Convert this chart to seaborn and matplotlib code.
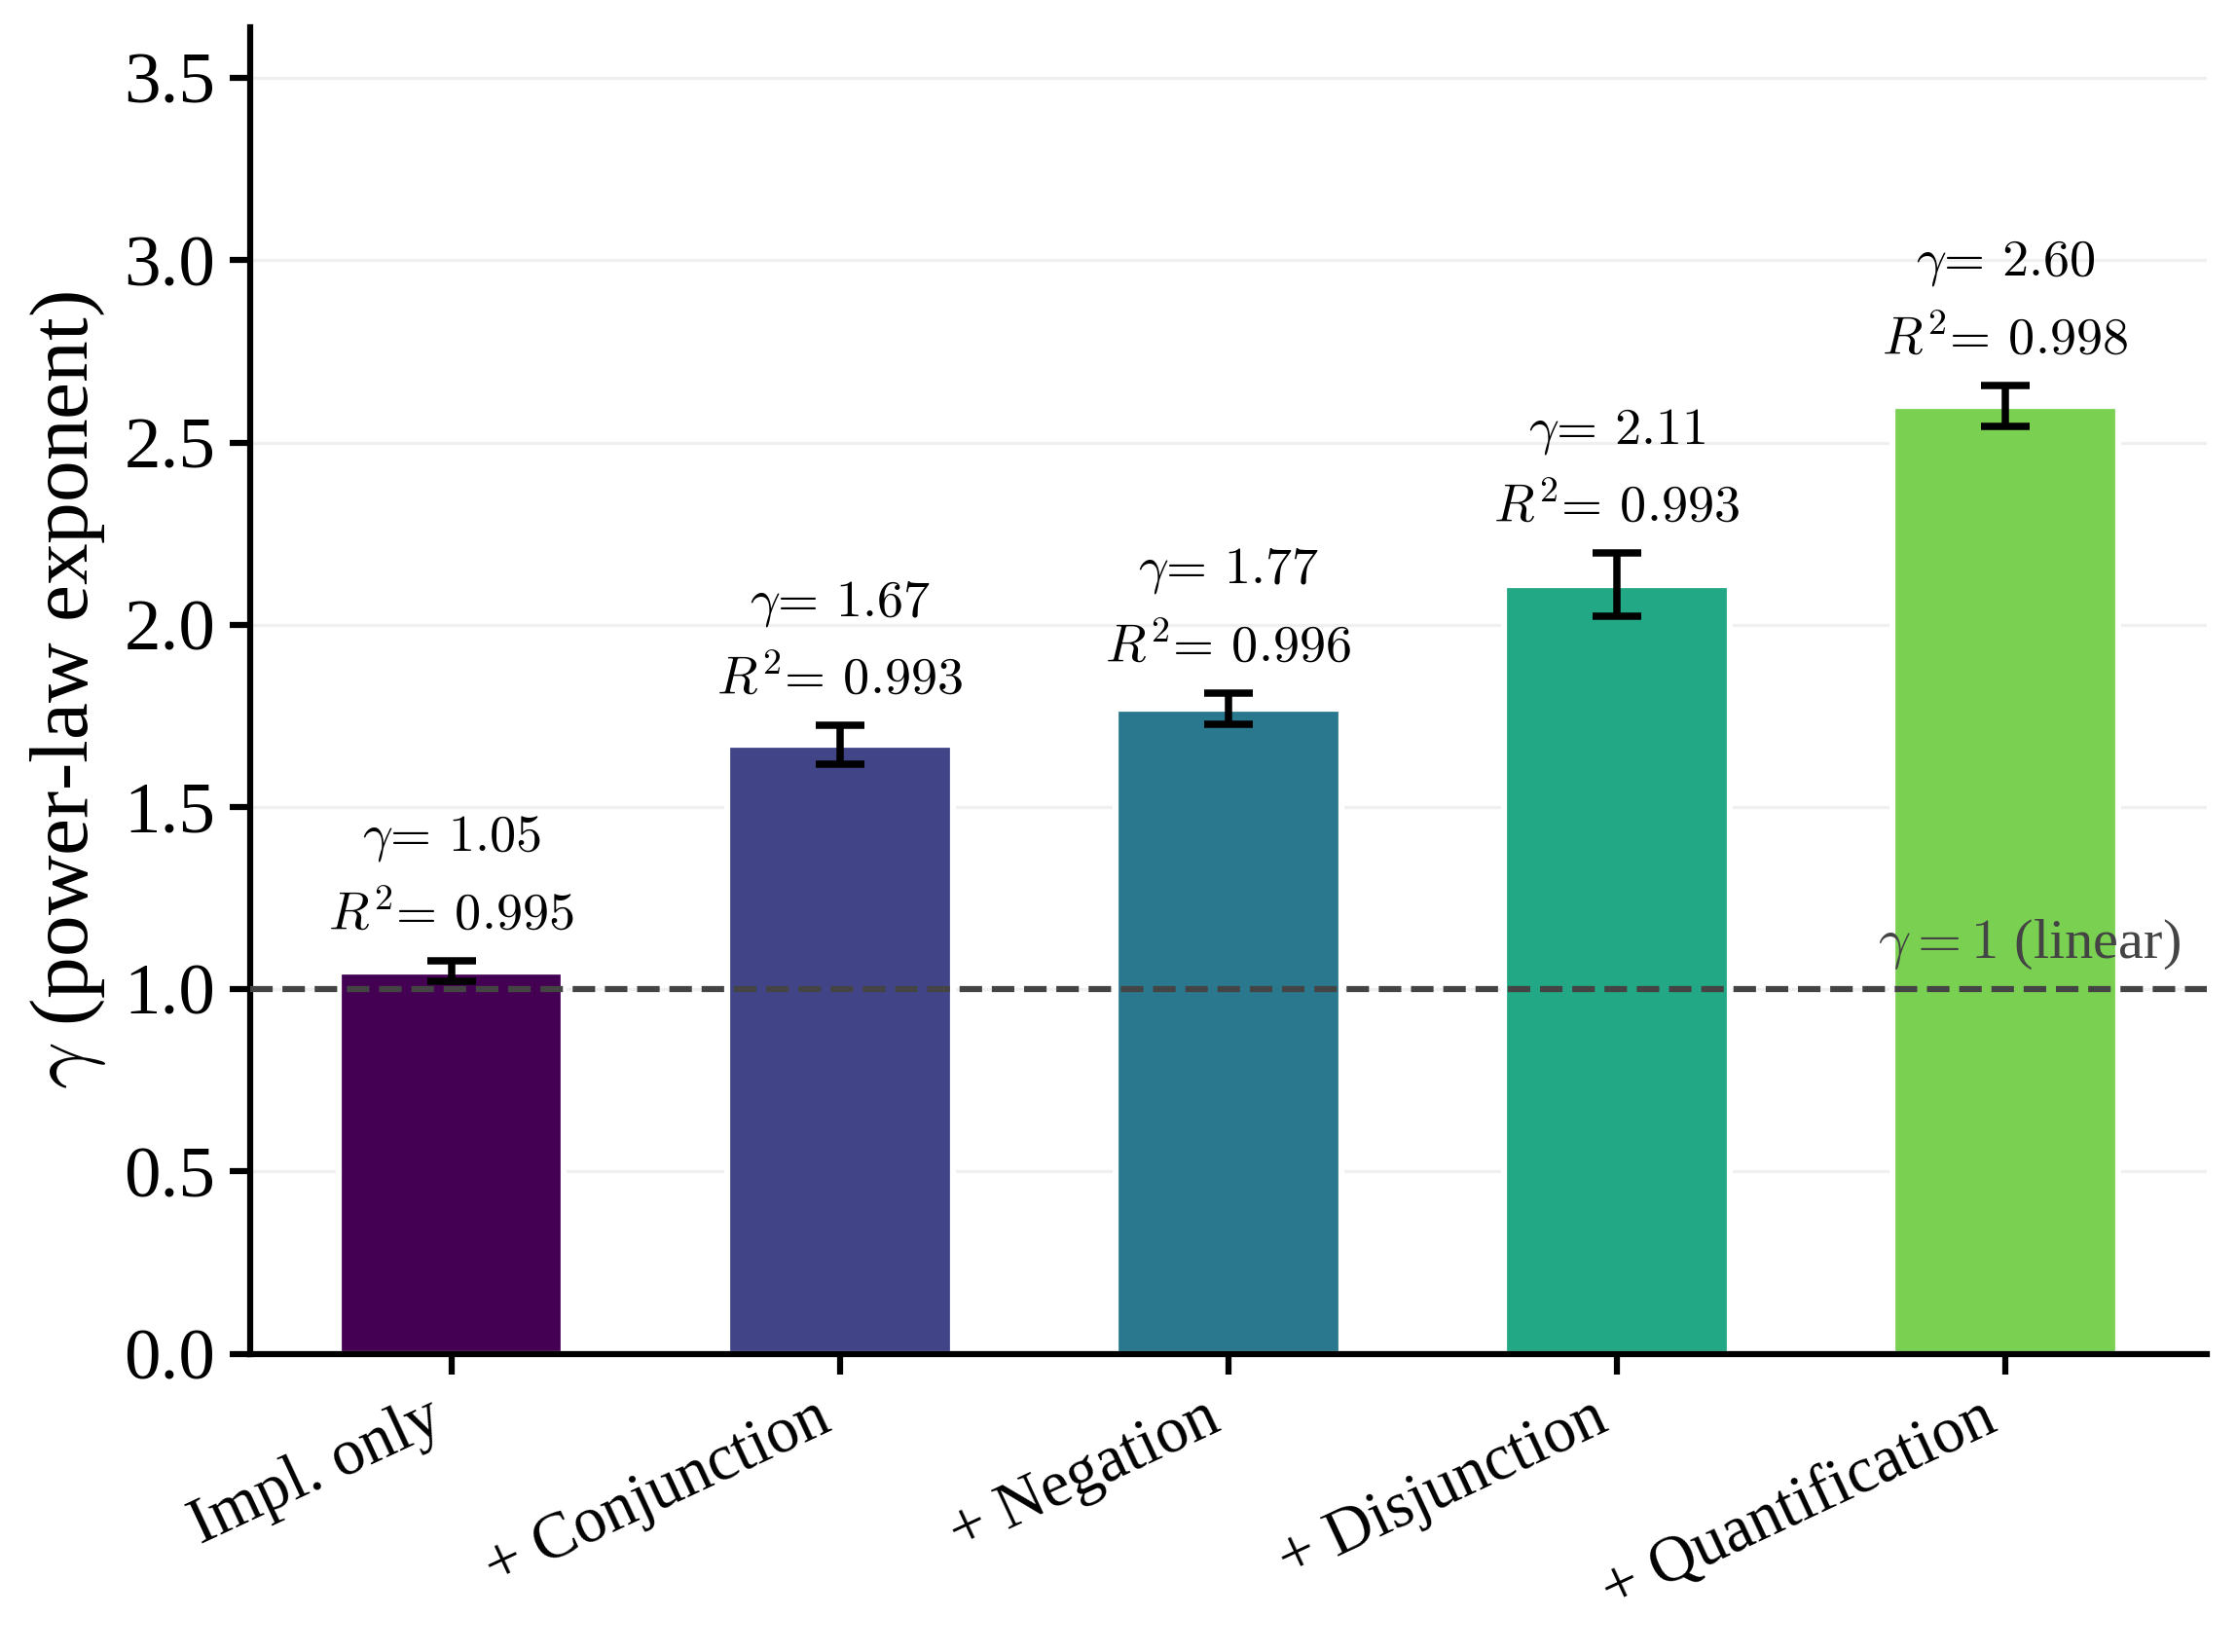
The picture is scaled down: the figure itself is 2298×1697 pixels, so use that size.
import numpy as np
import pandas as pd
import matplotlib
matplotlib.use('Agg')
import matplotlib.pyplot as plt
import seaborn as sns

categories = ['Impl. only', '+ Conjunction', '+ Negation', '+ Disjunction', '+ Quantification']
gamma = [1.05, 1.67, 1.77, 2.11, 2.60]
gamma_err = [0.029, 0.053, 0.043, 0.086, 0.057]
r_squared = [0.995, 0.993, 0.996, 0.993, 0.998]

sns.set_style('ticks')
plt.rcParams['font.family'] = ['Liberation Serif', 'DejaVu Serif']
plt.rcParams['mathtext.fontset'] = 'cm'
for k in ['text.color', 'axes.labelcolor', 'xtick.color', 'ytick.color', 'axes.edgecolor']:
    plt.rcParams[k] = 'black'

df = pd.DataFrame({'condition': categories, 'gamma': gamma,
                   'err': gamma_err, 'r2': r_squared})
colors = [matplotlib.colormaps['viridis'](v) for v in np.linspace(0, 0.8, len(categories))]

fig, ax = plt.subplots(figsize=(2298 / 300, 1697 / 300), dpi=300)
sns.barplot(data=df, x='condition', y='gamma', hue='condition', palette=colors,
            legend=False, width=0.58, edgecolor='white', linewidth=1.5,
            saturation=1, errorbar=None, ax=ax)
ax.errorbar(np.arange(len(df)), df['gamma'], yerr=df['err'], fmt='none',
            ecolor='black', elinewidth=1.8, capsize=6, capthick=1.8, zorder=3)

for i, row in df.iterrows():
    ax.text(i, row['gamma'] + row['err'] + 0.06,
            f"$\\gamma$= {row['gamma']:.2f}\n$R^2$= {row['r2']:.3f}",
            ha='center', va='bottom', fontsize=13, family='cmr10',
            linespacing=1.65)

# reference line
ax.axhline(1.0, color='#444444', ls='--', lw=1.5, zorder=4)
ax.text(4.45, 1.05, r'$\gamma = 1$ (linear)', ha='right', va='bottom',
        fontsize=14, color='#444444')

ax.yaxis.grid(True, color='#f0f0f0', lw=0.8)
ax.set_axisbelow(True)
ax.set_ylim(0, 3.64)
ax.set_xlim(-0.519, 4.519)
ax.set_xticks(range(len(categories)))
ax.set_xticklabels(categories, rotation=25, ha='right', fontsize=16)
ax.tick_params(axis='y', labelsize=18)
ax.tick_params(width=1.5, length=5)
ax.set_xlabel('')
ax.set_ylabel(r'$\gamma$ (power-law exponent)', fontsize=20.5)
sns.despine(ax=ax)
for s in ['left', 'bottom']:
    ax.spines[s].set_linewidth(1.5)

fig.subplots_adjust(left=0.1117, right=0.9865, bottom=0.1805, top=0.9837)
plt.savefig('out.png', dpi=300)
